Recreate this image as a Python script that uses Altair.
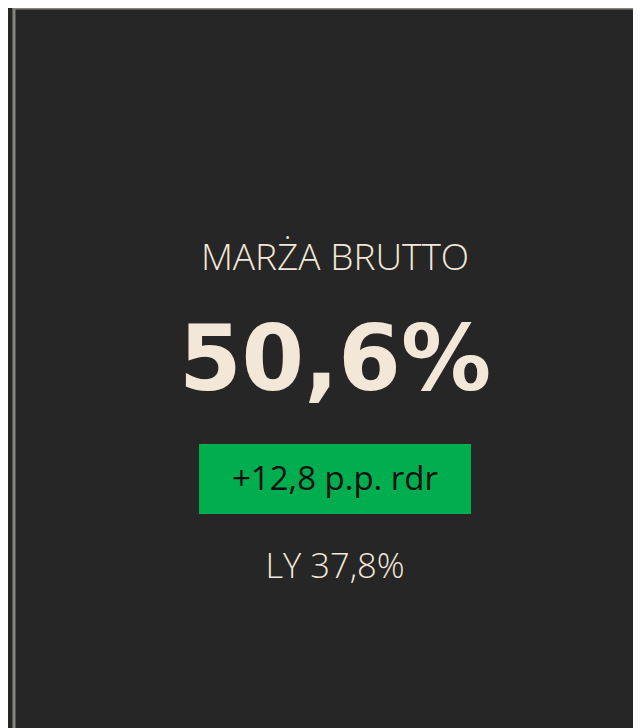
import altair as alt
import pandas as pd

# KPI card data
labels = ["MARŻA BRUTTO"]
values = ["50,6%"]
deltas = ["+12,8 p.p. rdr"]
last_year = ["LY 37,8%"]

df = pd.DataFrame({"label": labels, "value": values, "delta": deltas, "ly": last_year})

BG = "#262626"
CREAM = "#F3E7D8"
GREEN = "#00AD4F"
BORDER = "#86847d"
CX = 321
W, H = 619, 740

base = alt.Chart(df)

border_left = base.mark_rule(color=BORDER, strokeWidth=3).encode(
    x=alt.value(0), y=alt.value(0), y2=alt.value(H))
border_top = base.mark_rule(color=BORDER, strokeWidth=3).encode(
    x=alt.value(-1.5), x2=alt.value(W), y=alt.value(0))

title = base.mark_text(font="Open Sans", fontSize=37, fontWeight=300, color=CREAM,
                       align="center", baseline="alphabetic").encode(
    x=alt.value(CX), y=alt.value(262), text="label:N")

big = base.mark_text(font="DejaVu Sans", fontSize=90, fontWeight="bold", color=CREAM,
                     align="center", baseline="alphabetic").encode(
    x=alt.value(CX), y=alt.value(382), text="value:N")

badge = base.mark_rect(color=GREEN).encode(
    x=alt.value(185), x2=alt.value(457), y=alt.value(436), y2=alt.value(506))

badge_text = base.mark_text(font="Open Sans", fontSize=33, color="#111111",
                            align="center", baseline="alphabetic").encode(
    x=alt.value(CX), y=alt.value(482), text="delta:N")

ly = base.mark_text(font="Open Sans", fontSize=34.5, fontWeight=300, color=CREAM,
                    align="center", baseline="alphabetic").encode(
    x=alt.value(CX), y=alt.value(570), text="ly:N")

chart = alt.layer(border_left, border_top, title, big, badge, badge_text, ly).properties(
    width=W, height=H,
    padding={"left": 6, "top": 0, "right": 0, "bottom": 0},
    autosize=alt.AutoSizeParams(type="none"),
    background=BG,
).configure_view(strokeWidth=0, fill=BG)

chart.save("out.html", embed_options={"renderer": "svg", "actions": False})
